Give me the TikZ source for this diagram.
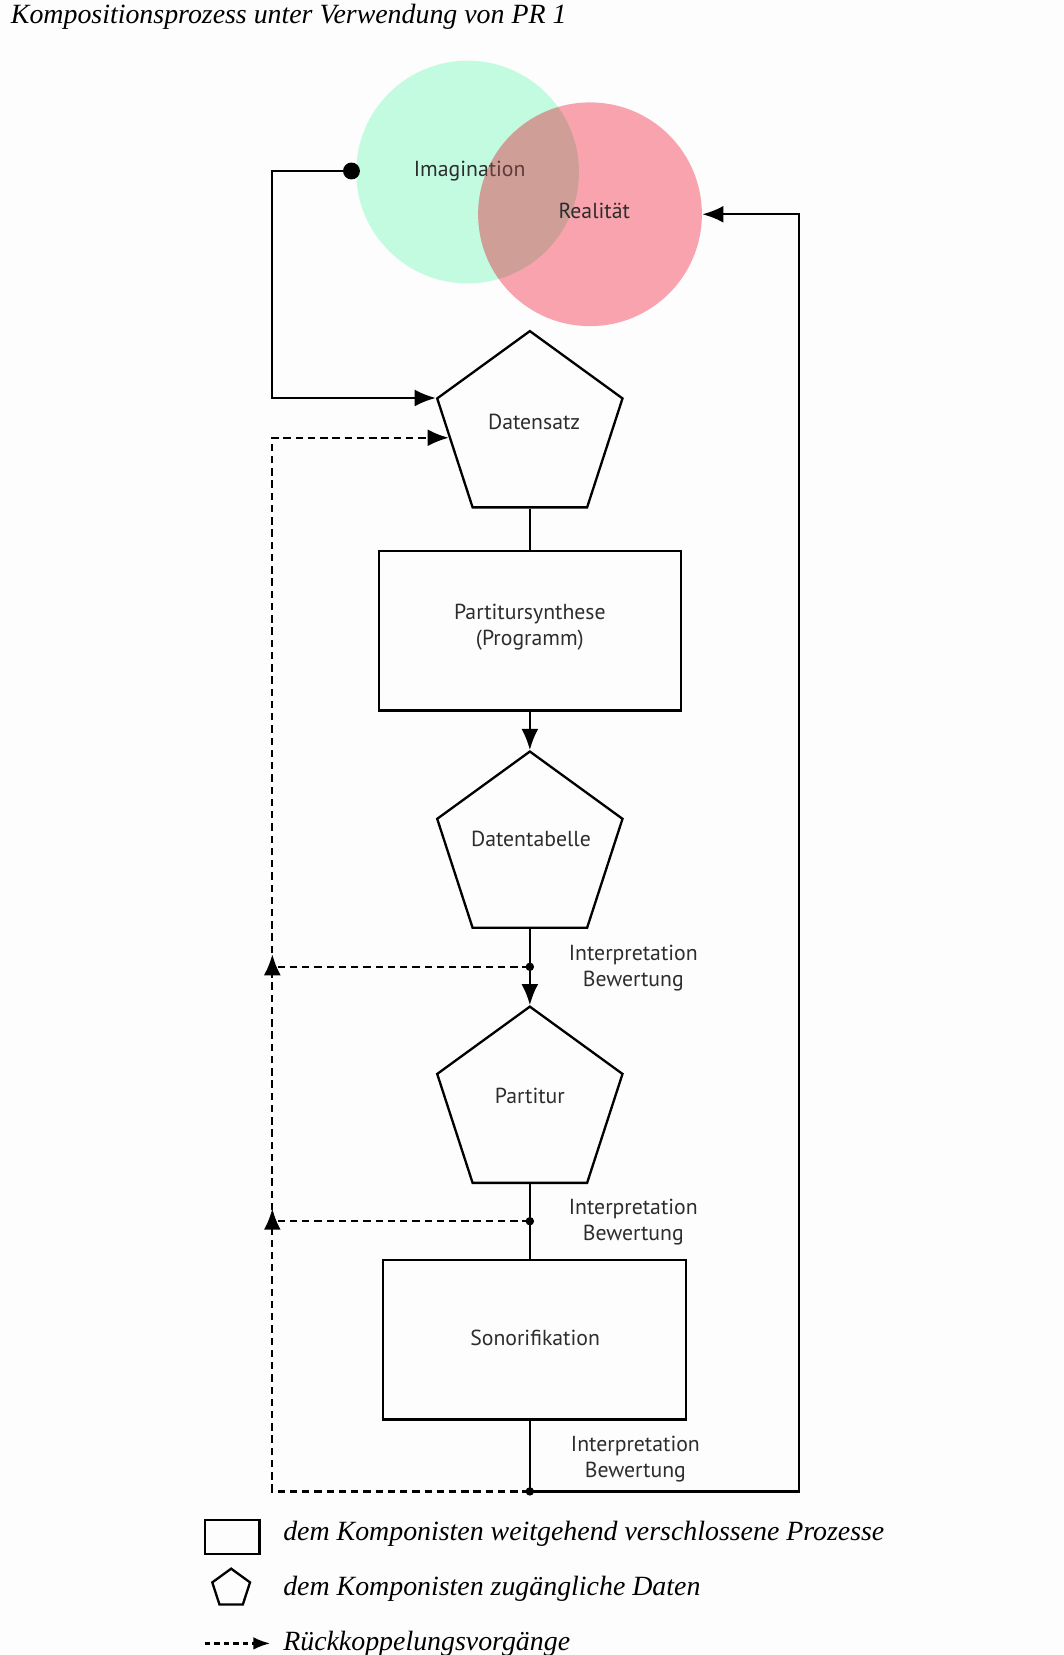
\documentclass[tikz,border=0pt]{standalone}
\usepackage{fontspec}
\setmainfont{Liberation Serif}
\setsansfont{PT Sans}
\usetikzlibrary{shapes.geometric,arrows.meta,calc}
\definecolor{imag}{RGB}{194,251,224}
\definecolor{real}{RGB}{252,165,178}
\definecolor{tint}{RGB}{255,150,140}
\definecolor{bg}{RGB}{252,253,252}
\definecolor{lbl}{RGB}{45,45,45}
\begin{document}
\begin{tikzpicture}[x=0.5pt,y=-0.5pt,
  line/.style={line width=1.1pt,black},
  arr/.style={line, -{Latex[length=10pt,width=8pt]}},
  fb/.style={line, dash pattern=on 3.5pt off 2.3pt},
  pent/.style={regular polygon, regular polygon sides=5, draw, line width=1.1pt, inner sep=0pt, minimum size=92.3pt},
  procbox/.style={rectangle, draw, line width=1.1pt, minimum height=75.5pt, inner sep=0pt},
  lab/.style={font=\fontsize{10.3}{12.3}\selectfont\sffamily, text=lbl, inner sep=0pt},
  leg/.style={font=\fontsize{13.2}{15}\selectfont\itshape, anchor=west, inner sep=0pt},
  dotbig/.style={circle, fill=black, inner sep=0pt, minimum size=8pt},
  dotsmall/.style={circle, fill=black, inner sep=0pt, minimum size=4pt}
]
\fill[bg] (0,0) rectangle (1008,1568);
\useasboundingbox (0,0) rectangle (1008,1568);

% title
\node[anchor=base west, inner sep=0pt, font=\fontsize{13.2}{15}\selectfont\itshape] (title) at (10,22) {Kompositionsprozess unter Verwendung von PR 1};

% circles
\node[circle, fill=imag, minimum size=105.5pt, inner sep=0pt] (im) at (443,163) {};
\node[lab] (imt) at (445,162) {Imagination};
\node[circle, fill=real, blend mode=multiply, minimum size=106pt, inner sep=0pt] (re) at (559,203) {};
\begin{scope}
  \clip (im.center) circle [radius=52.75pt];
  \fill[tint, opacity=0.25] (re.center) circle [radius=53pt];
\end{scope}
\node[lab] (ret) at (563,200) {Realität};

% main chain
\node[dotbig] (d1) at (333,162) {};
\node[pent] (ds) at (502,406) {};
\node[lab] (dst) at (506,400) {Datensatz};
\node[procbox, minimum width=143pt] (ps) at (502,597.5) {};
\node[lab, align=center] (pst) at (502,594) {Partitursynthese\\(Programm)};
\node[pent] (dt) at (502,804.3) {};
\node[lab] (dtt) at (503,795) {Datentabelle};
\node[dotsmall] (d2) at (502,916) {};
\node[pent] (pt) at (502,1046) {};
\node[lab] (ptt) at (502,1038) {Partitur};
\node[dotsmall] (d3) at (502,1157) {};
\node[procbox, minimum width=143.5pt] (so) at (506.5,1269.5) {};
\node[lab] (sot) at (507,1268) {Sonorifikation};
\node[dotsmall] (d4) at (502,1413) {};

\node[lab, align=center] (ib1) at (600,917.5) {Interpretation\\Bewertung};
\node[lab, align=center] (ib2) at (600,1158) {Interpretation\\Bewertung};
\node[lab, align=center] (ib3) at (602,1382) {Interpretation\\Bewertung};

\coordinate (k1) at (258,162);
\coordinate (k2) at (757,1413);
\coordinate (k3) at (258,1413);
\coordinate (dsin) at ($(ds.corner 2)!0.36!(ds.corner 3)$);

\draw[arr] (d1.center) -- (k1) |- (ds.corner 2);
\draw[line] (ds.side 3) -- (ps.north);
\draw[arr] (ps.south) -- (dt.corner 1);
\draw[line] (dt.side 3) -- (d2.center);
\draw[arr] (d2.center) -- (pt.corner 1);
\draw[line] (pt.side 3) -- (d3.center) -- (d3 |- so.north);
\draw[line] (d4 |- so.south) -- (d4.center);
\draw[arr] (d4.center) -- (k2) |- (re.east);

% feedback
\draw[fb, -{Latex[length=10pt,width=8pt]}] (d4.center) -- (k3) |- (dsin);
\draw[fb] (d2.center) -- (d2 -| k3);
\draw[fb] (d3.center) -- (d3 -| k3);
\draw[arr] ($(d2 -| k3)+(0,9)$) -- ($(d2 -| k3)+(0,-12)$);
\draw[arr] ($(d3 -| k3)+(0,9)$) -- ($(d3 -| k3)+(0,-12)$);

% legend
\node[rectangle, draw, line width=1.1pt, minimum width=26pt, minimum height=16pt, inner sep=0pt] (lr) at (220,1456) {};
\node[leg] (lt1) at (268,1453) {dem Komponisten weitgehend verschlossene Prozesse};
\node[regular polygon, regular polygon sides=5, draw, line width=1.1pt, inner sep=0pt, minimum size=18.8pt] (lp) at (219,1505) {};
\node[leg] (lt2) at (268,1505) {dem Komponisten zugängliche Daten};
\coordinate (la) at (194,1557);
\coordinate (lb) at (256,1557);
\draw[line, dash pattern=on 2.5pt off 2pt, -{Latex[length=8pt,width=6pt]}] (la) -- (lb);
\node[leg] (lt3) at (268,1557) {Rückkoppelungsvorgänge};
\end{tikzpicture}
\end{document}
